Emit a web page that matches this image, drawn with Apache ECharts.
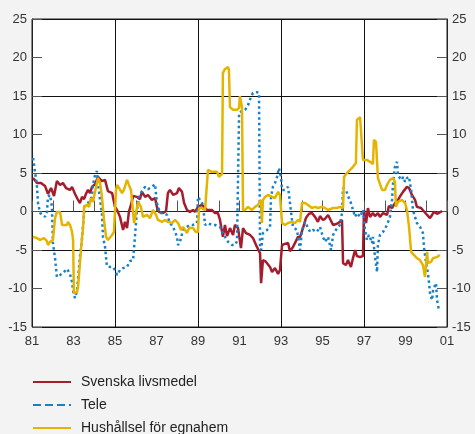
<!DOCTYPE html>
<html>
<head>
<meta charset="utf-8">
<script src="https://cdn.jsdelivr.net/npm/echarts@6/dist/echarts.min.js"></script>
<style>
  html, body { margin: 0; padding: 0; background: #f3f3f3; }
  #chart { width: 475px; height: 434px; }
</style>
</head>
<body>
<div id="chart"></div>
<script>
// [år, procent]
const livsmedel = [
  [1981.05, 4.35], [1981.24, 3.7], [1981.43, 3.7], [1981.63, 3.3], [1981.77, 2.3], [1981.92, 3.05],
  [1982.06, 2.0], [1982.2, 3.95], [1982.35, 3.45], [1982.49, 3.7], [1982.64, 3.05], [1982.83, 2.8],
  [1982.93, 3.2], [1983.07, 2.3], [1983.22, 1.5], [1983.31, 1.1], [1983.41, 1.9], [1983.51, 1.6],
  [1983.6, 2.3], [1983.7, 2.8], [1983.8, 2.4], [1983.89, 3.2], [1984.04, 3.55], [1984.18, 4.5],
  [1984.37, 3.95], [1984.52, 4.1], [1984.66, 2.65], [1984.86, 2.4], [1985.0, 0.6], [1985.1, 0.2],
  [1985.24, -0.7], [1985.39, -2.4], [1985.48, -1.35], [1985.58, -2.15], [1985.67, -0.05], [1985.77, 0.85],
  [1985.87, 2.0], [1986.06, 1.9], [1986.2, 1.6], [1986.3, 2.55], [1986.45, 1.9], [1986.59, 2.15],
  [1986.78, 1.5], [1986.93, 1.75], [1987.02, 0.6], [1987.12, -0.05], [1987.31, -0.2], [1987.46, 0.05],
  [1987.55, 2.4], [1987.65, 2.8], [1987.8, 2.15], [1987.99, 2.4], [1988.08, 3.05], [1988.23, 2.55],
  [1988.33, 1.1], [1988.47, 0.2], [1988.61, -0.05], [1988.76, 0.2], [1988.86, -0.05], [1989.0, 0.6],
  [1989.19, 0.85], [1989.29, 0.6], [1989.43, 0.2], [1989.67, 0.2], [1989.82, -0.2], [1989.96, -0.2],
  [1990.06, -1.1], [1990.2, -3.3], [1990.3, -1.75], [1990.4, -3.2], [1990.54, -2.15], [1990.69, -3.05],
  [1990.78, -1.75], [1990.93, -2.15], [1991.07, -4.75], [1991.17, -2.15], [1991.31, -2.8], [1991.51, -3.05],
  [1991.65, -3.45], [1991.84, -4.6], [1991.99, -5.4], [1992.04, -9.3], [1992.13, -6.3], [1992.28, -6.55],
  [1992.37, -6.45], [1992.47, -7.2], [1992.57, -7.85], [1992.71, -7.35], [1992.86, -8.1], [1992.95, -7.6],
  [1993.05, -4.35], [1993.19, -4.2], [1993.34, -4.1], [1993.43, -5.15], [1993.58, -4.6], [1993.67, -4.35],
  [1993.82, -3.3], [1993.92, -3.3], [1994.06, -2.15], [1994.2, -0.85], [1994.35, -0.3], [1994.49, -0.2],
  [1994.64, -0.7], [1994.78, -1.35], [1994.88, -0.6], [1995.02, -1.1], [1995.12, -0.95], [1995.27, -0.45],
  [1995.36, -0.7], [1995.51, -1.75], [1995.7, -1.6], [1995.84, -1.35], [1995.94, -1.1], [1995.99, -6.7],
  [1996.13, -6.95], [1996.23, -6.3], [1996.37, -7.2], [1996.47, -6.05], [1996.57, -5.0], [1996.66, -5.8],
  [1996.81, -5.9], [1996.95, -5.8], [1997.0, 0.2], [1997.1, -1.5], [1997.19, 0.45], [1997.29, -0.7],
  [1997.43, -0.2], [1997.53, -0.6], [1997.67, -0.2], [1997.77, -0.7], [1997.92, -0.2], [1998.11, -0.45],
  [1998.2, 0.7], [1998.35, 0.45], [1998.49, 1.1], [1998.64, 1.5], [1998.78, 2.15], [1998.88, 2.55],
  [1999.07, 3.2], [1999.17, 3.05], [1999.31, 2.15], [1999.46, 1.5], [1999.55, 0.6], [1999.75, 0.45],
  [1999.84, 0.2], [2000.04, -0.45], [2000.18, -0.85], [2000.28, -0.45], [2000.37, -0.05], [2000.52, -0.3],
  [2000.76, 0.05]
];

const tele = [
  [1981.05, 6.95], [1981.1, 6.05], [1981.14, 5.15], [1981.19, 4.35], [1981.24, 3.2], [1981.29, 1.1],
  [1981.39, -0.2], [1981.53, -0.45], [1981.63, -0.7], [1981.72, -0.05], [1981.77, 1.9], [1981.87, 2.15],
  [1981.96, 0.6], [1982.01, -4.1], [1982.11, -6.05], [1982.2, -8.5], [1982.35, -8.25], [1982.49, -8.0],
  [1982.69, -7.45], [1982.73, -7.35], [1982.83, -8.1], [1982.93, -9.15], [1982.98, -10.3], [1983.07, -11.25],
  [1983.17, -10.3], [1983.22, -8.75], [1983.31, -5.9], [1983.41, -3.55], [1983.46, -1.75], [1983.55, 0.85],
  [1983.7, 1.1], [1983.89, 1.9], [1983.94, 3.45], [1984.04, 4.75], [1984.13, 5.25], [1984.18, 3.7],
  [1984.28, 1.5], [1984.37, -0.2], [1984.42, -3.3], [1984.52, -4.6], [1984.61, -7.1], [1984.76, -7.2],
  [1984.9, -7.2], [1985.0, -7.6], [1985.1, -8.25], [1985.24, -7.6], [1985.39, -7.35], [1985.58, -7.2],
  [1985.72, -6.45], [1985.87, -6.3], [1985.96, -3.3], [1986.06, 0.2], [1986.16, 1.9], [1986.3, 2.65],
  [1986.45, 3.2], [1986.59, 2.9], [1986.78, 3.2], [1986.93, 3.55], [1987.02, 1.1], [1987.17, -0.2],
  [1987.31, -0.2], [1987.51, -0.45], [1987.65, -1.5], [1987.8, -2.0], [1987.99, -3.3], [1988.04, -4.35],
  [1988.13, -3.95], [1988.28, -2.4], [1988.47, -2.0], [1988.61, -1.75], [1988.76, -1.75], [1988.95, -1.5],
  [1989.0, 1.9], [1989.1, 1.5], [1989.24, 0.85], [1989.34, -1.75], [1989.48, -1.5], [1989.67, -1.75],
  [1989.82, -1.75], [1990.06, -2.0], [1990.2, -2.8], [1990.3, -3.3], [1990.45, -3.95], [1990.64, -4.35],
  [1990.78, -4.35], [1990.88, -3.85], [1990.98, 12.8], [1991.12, 13.05], [1991.27, 13.2], [1991.41, 13.8],
  [1991.55, 14.85], [1991.65, 15.4], [1991.84, 15.5], [1991.94, 15.4], [1991.99, -4.6], [1992.04, -5.0],
  [1992.08, -4.1], [1992.13, -2.8], [1992.33, -2.4], [1992.47, -2.0], [1992.52, 1.9], [1992.61, 3.2],
  [1992.71, 3.7], [1992.81, 4.5], [1992.9, 5.65], [1993.0, 4.5], [1993.05, 2.8], [1993.19, 2.8],
  [1993.34, 3.2], [1993.43, 3.45], [1993.53, -1.1], [1993.58, -2.0], [1993.77, -2.4], [1993.92, -5.0],
  [1994.01, -2.4], [1994.16, -1.35], [1994.25, -1.5], [1994.4, -2.65], [1994.54, -2.4], [1994.73, -2.65],
  [1994.88, -2.0], [1995.02, -3.3], [1995.12, -3.95], [1995.27, -3.3], [1995.41, -5.0], [1995.51, -3.05],
  [1995.7, -2.15], [1995.84, -1.75], [1995.94, -0.2], [1995.99, 3.05], [1996.13, 2.8], [1996.23, 2.0],
  [1996.37, 1.1], [1996.47, 0.2], [1996.57, -0.7], [1996.66, -0.2], [1996.81, -0.7], [1996.95, 0.2],
  [1997.05, -2.4], [1997.14, -3.7], [1997.24, -3.05], [1997.39, -4.1], [1997.43, -3.3], [1997.53, -5.9],
  [1997.63, -7.85], [1997.67, -4.35], [1997.77, -3.05], [1997.92, -2.65], [1998.11, -1.75], [1998.25, -0.7],
  [1998.35, 1.5], [1998.4, 3.7], [1998.49, 5.8], [1998.59, 6.45], [1998.64, 4.75], [1998.73, 4.35],
  [1998.83, 4.1], [1998.88, 4.5], [1998.98, 3.85], [1999.07, 4.35], [1999.17, 4.5], [1999.27, 2.8],
  [1999.36, 0.2], [1999.46, -0.7], [1999.55, -1.5], [1999.7, -2.0], [1999.84, -2.8], [1999.89, -4.6],
  [1999.99, -6.7], [2000.08, -8.0], [2000.13, -9.15], [2000.18, -10.6], [2000.28, -11.5], [2000.33, -10.2],
  [2000.47, -9.3], [2000.52, -11.5], [2000.61, -12.8]
];

const hushallsel = [
  [1981.05, -3.3], [1981.24, -3.45], [1981.39, -3.7], [1981.58, -3.45], [1981.72, -3.85], [1981.77, -4.35],
  [1981.87, -3.95], [1981.96, -4.2], [1982.01, -3.7], [1982.11, -0.85], [1982.2, -0.05], [1982.25, 0.2],
  [1982.35, -0.05], [1982.45, -1.75], [1982.54, -2.0], [1982.69, -1.75], [1982.73, -1.35], [1982.83, -1.75],
  [1982.93, -2.65], [1982.98, -3.7], [1983.02, -10.6], [1983.07, -10.85], [1983.17, -10.45], [1983.22, -9.8],
  [1983.31, -9.95], [1983.36, -5.0], [1983.41, -3.45], [1983.46, -2.15], [1983.51, 0.6], [1983.65, 0.85],
  [1983.75, 0.6], [1983.84, 1.75], [1983.94, 1.25], [1984.04, 2.55], [1984.13, 3.7], [1984.18, 4.35],
  [1984.28, 3.7], [1984.37, 1.9], [1984.47, -1.1], [1984.57, -3.3], [1984.66, -3.7], [1984.86, -3.05],
  [1984.95, -2.65], [1985.05, 2.8], [1985.1, 3.45], [1985.19, 3.2], [1985.34, 2.4], [1985.43, 2.8],
  [1985.58, 4.1], [1985.67, 3.45], [1985.77, 2.8], [1985.92, -1.5], [1986.01, -0.2], [1986.11, 1.25],
  [1986.25, 0.6], [1986.35, -0.7], [1986.54, -0.45], [1986.69, -0.85], [1986.83, 0.2], [1986.98, -0.45],
  [1987.07, -1.1], [1987.27, -1.35], [1987.41, -1.1], [1987.55, -1.35], [1987.75, -1.5], [1987.89, -1.1],
  [1988.04, -1.5], [1988.18, -2.4], [1988.28, -2.0], [1988.47, -2.8], [1988.57, -2.15], [1988.76, -2.15],
  [1988.9, -2.65], [1989.0, -2.65], [1989.05, 0.45], [1989.19, 0.45], [1989.34, 0.2], [1989.43, 0.2],
  [1989.48, 5.4], [1989.67, 5.15], [1989.92, 5.15], [1990.01, 4.5], [1990.16, 4.85], [1990.2, 18.0],
  [1990.3, 18.5], [1990.45, 18.75], [1990.49, 18.4], [1990.54, 13.55], [1990.69, 13.2], [1990.88, 13.2],
  [1990.98, 13.45], [1991.02, 15.0], [1991.12, 13.55], [1991.17, 0.2], [1991.27, 0.2], [1991.41, 0.6],
  [1991.6, 0.2], [1991.75, 0.6], [1991.89, 0.85], [1992.04, 1.5], [1992.08, -1.5], [1992.13, 1.5],
  [1992.23, 1.9], [1992.37, 2.15], [1992.57, 1.9], [1992.71, 1.75], [1992.86, 2.55], [1992.95, 2.15],
  [1993.05, -1.5], [1993.19, -1.75], [1993.34, -1.5], [1993.53, -1.35], [1993.67, -1.5], [1993.82, -1.1],
  [1993.92, -1.35], [1994.01, 1.1], [1994.16, 1.1], [1994.3, 0.85], [1994.49, 0.45], [1994.64, 0.6],
  [1994.78, 0.45], [1994.98, 0.6], [1995.12, 0.45], [1995.27, 0.2], [1995.36, -0.05], [1995.51, 0.45],
  [1995.7, 0.45], [1995.84, 0.6], [1995.99, 0.45], [1996.04, 4.5], [1996.18, 5.0], [1996.33, 5.4],
  [1996.47, 5.8], [1996.61, 6.3], [1996.66, 11.9], [1996.81, 12.25], [1996.9, 12.15], [1996.95, 6.7],
  [1997.14, 6.7], [1997.29, 6.45], [1997.43, 6.15], [1997.48, 9.3], [1997.58, 9.0], [1997.67, 4.35],
  [1997.87, 2.8], [1998.01, 2.8], [1998.11, 3.45], [1998.25, 4.1], [1998.4, 4.35], [1998.49, 3.85],
  [1998.54, 0.6], [1998.64, 1.25], [1998.83, 1.5], [1998.98, 1.1], [1999.07, 0.2], [1999.17, -2.0],
  [1999.27, -5.25], [1999.36, -5.4], [1999.55, -6.05], [1999.7, -6.3], [1999.84, -6.95], [1999.94, -8.5],
  [2000.04, -5.25], [2000.08, -6.7], [2000.23, -6.55], [2000.33, -6.05], [2000.52, -5.9], [2000.66, -5.65]
];

const seriesNames = ['Svenska livsmedel', 'Tele', 'Hushållsel för egnahem'];
const yTicks = [-15, -10, -5, 0, 5, 10, 15, 20, 25];
const xTicks = ['81', '83', '85', '87', '89', '91', '93', '95', '97', '99', '01'];

const chart = echarts.init(document.getElementById('chart'));

const labelFont = { color: '#333', fontSize: 13, fontFamily: 'Liberation Sans' };

const option = {
  animation: false,
  backgroundColor: '#f3f3f3',
  grid: {
    left: 32, right: 28, top: 19, bottom: 107,
    show: true, backgroundColor: '#fff', borderColor: '#222', borderWidth: 1
  },
  legend: {
    orient: 'vertical',
    left: 32, top: 374, height: 90,
    padding: 0,
    itemWidth: 38, itemHeight: 10, itemGap: 7,
    itemStyle: { opacity: 0 },
    textStyle: { fontSize: 14, lineHeight: 16, color: '#222', fontFamily: 'Liberation Sans', padding: [0, 0, 0, 5] },
    data: [
      { name: seriesNames[0] },
      { name: seriesNames[1], lineStyle: { type: [8, 4] } },
      { name: seriesNames[2] }
    ]
  },
  xAxis: [
    {
      type: 'value', min: 1981, max: 2001, interval: 2,
      axisLine: { lineStyle: { color: '#222' } },
      axisTick: { inside: true, length: 11, lineStyle: { color: '#555' } },
      minorTick: { show: true, splitNumber: 2, length: 11, lineStyle: { color: '#555' } },
      axisLabel: {
        ...labelFont, margin: 8,
        formatter: v => xTicks[Math.round((v - 1981) / 2)]
      },
      splitLine: { show: false }
    },
    {
      // rutnät vart fjärde år
      type: 'value', min: 1981, max: 2001, interval: 4, position: 'bottom',
      axisLine: { show: false }, axisTick: { show: false }, axisLabel: { show: false },
      splitLine: { show: true, lineStyle: { color: '#111', width: 1 } }
    }
  ],
  yAxis: [
    {
      type: 'value', min: yTicks[0], max: yTicks[yTicks.length - 1], interval: 5, position: 'left',
      axisLine: { show: true, lineStyle: { color: '#222' } },
      axisTick: { show: true, inside: true, length: 10, lineStyle: { color: '#555' } },
      axisLabel: { ...labelFont, margin: 5 },
      splitLine: { show: false }
    },
    {
      type: 'value', min: yTicks[0], max: yTicks[yTicks.length - 1], interval: 5, position: 'right',
      axisLine: { show: true, lineStyle: { color: '#222' } },
      axisTick: { show: true, inside: true, length: 10, lineStyle: { color: '#555' } },
      axisLabel: { ...labelFont, margin: 5 },
      splitLine: { show: false }
    },
    {
      type: 'value', min: yTicks[0], max: yTicks[yTicks.length - 1], interval: 10, position: 'left',
      axisLine: { show: false }, axisTick: { show: false }, axisLabel: { show: false },
      splitLine: { show: true, lineStyle: { color: '#111', width: 1 } }
    }
  ],
  series: [
    {
      name: seriesNames[0], type: 'line', data: livsmedel,
      symbol: 'none', color: '#a51c2c',
      lineStyle: { width: 2.5, color: '#a51c2c' }
    },
    {
      name: seriesNames[1], type: 'line', data: tele,
      symbol: 'none', color: '#1681c9',
      lineStyle: { width: 2.5, color: '#1681c9', type: [2.5, 3] }
    },
    {
      name: seriesNames[2], type: 'line', data: hushallsel,
      symbol: 'none', color: '#e5b400',
      lineStyle: { width: 2.5, color: '#e5b400' }
    }
  ]
};

chart.setOption(option);
</script>
</body>
</html>
